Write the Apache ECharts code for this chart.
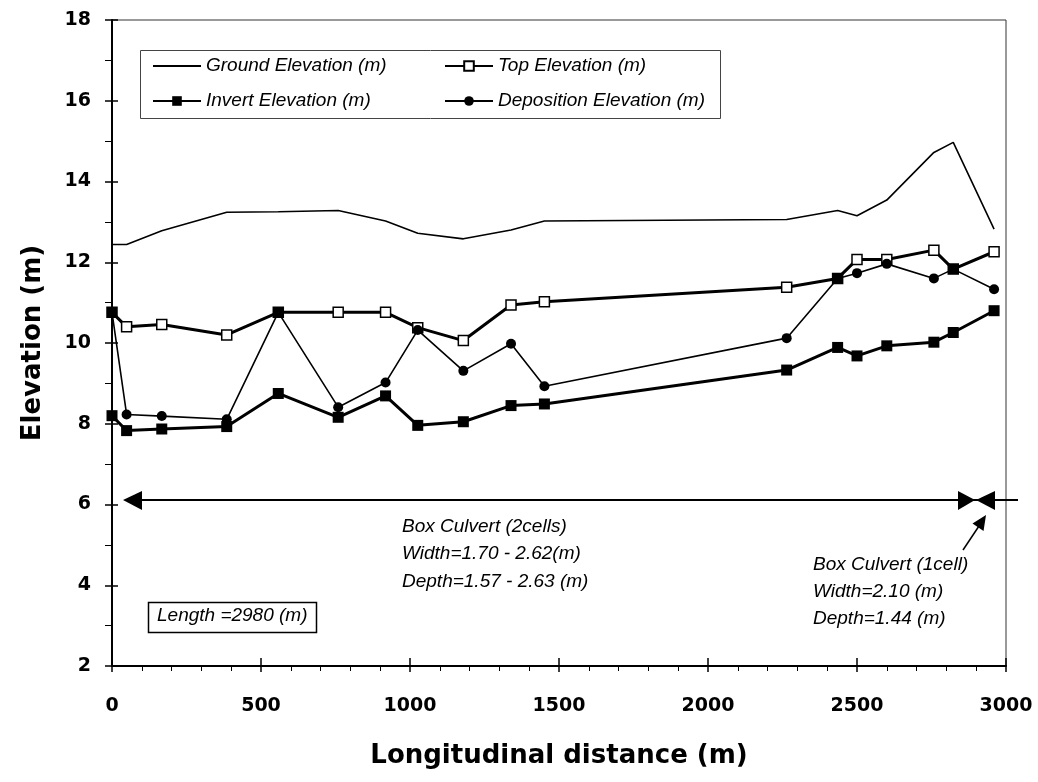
<!DOCTYPE html>
<html>
<head>
<meta charset="utf-8">
<script src="https://cdn.jsdelivr.net/npm/echarts@6/dist/echarts.min.js"></script>
<style>
html,body{margin:0;padding:0;background:#fff;}
#chart{width:1038px;height:782px;}
</style>
</head>
<body>
<div id="chart"></div>
<script>
const distance = [0, 49, 167, 385, 558, 759, 918, 1026, 1179, 1339, 1451, 2264, 2435, 2500, 2600, 2758, 2823, 2960];
const groundElev = [12.44, 12.44, 12.78, 13.24, 13.25, 13.28, 13.02, 12.72, 12.58, 12.80, 13.02, 13.06, 13.28, 13.15, 13.54, 14.72, 14.97, 12.82];
const topElev = [10.76, 10.40, 10.46, 10.20, 10.76, 10.76, 10.76, 10.38, 10.06, 10.94, 11.02, 11.38, 11.60, 12.07, 12.07, 12.30, 11.83, 12.26];
const invertElev = [8.20, 7.83, 7.87, 7.93, 8.75, 8.16, 8.69, 7.96, 8.05, 8.45, 8.49, 9.33, 9.89, 9.68, 9.93, 10.02, 10.26, 10.80];
const depositionElev = [10.76, 8.23, 8.19, 8.11, 10.76, 8.41, 9.02, 10.32, 9.31, 9.98, 8.93, 10.12, 11.60, 11.73, 11.96, 11.60, 11.83, 11.33];
const seriesNames = ['Ground Elevation (m)', 'Top Elevation (m)', 'Invert Elevation (m)', 'Deposition Elevation (m)'];
const xAxisTitle = 'Longitudinal distance (m)';
const yAxisTitle = 'Elevation (m)';
const notes2cells = ['Box Culvert (2cells)', 'Width=1.70 - 2.62(m)', 'Depth=1.57 - 2.63 (m)'];
const notes1cell = ['Box Culvert (1cell)', 'Width=2.10 (m)', 'Depth=1.44 (m)'];
const lengthNote = 'Length =2980 (m)';

const pairs = arr => distance.map((d, i) => [d, arr[i]]);
const topData = distance.map((d, i) => {
  const item = { value: [d, topElev[i]] };
  if (depositionElev[i] === topElev[i]) item.itemStyle = { color: '#000' };
  return item;
});

const G = { left: 112, top: 20, width: 894, height: 646 };
const boldFont = 'DejaVu Sans';
const italicFont = 'Liberation Sans';
const noteFont = 'italic 19px "Liberation Sans"';

const chart = echarts.init(document.getElementById('chart'), null, { renderer: 'canvas' });

const textItems = [];
notes2cells.forEach((t, i) => textItems.push({ type: 'text', left: 402, top: 517 + i * 27.5, style: { text: t, font: noteFont, fill: '#000' }, z: 10 }));
notes1cell.forEach((t, i) => textItems.push({ type: 'text', left: 813, top: 555 + i * 27.3, style: { text: t, font: noteFont, fill: '#000' }, z: 10 }));

const legendText = { fontFamily: italicFont, fontStyle: 'italic', fontSize: 19, color: '#000', lineHeight: 22 };

const option = {
  animation: false,
  backgroundColor: '#fff',
  grid: [
    { left: G.left, top: G.top, width: G.width, height: G.height, show: true, borderColor: '#333', borderWidth: 1, backgroundColor: 'transparent' },
    { left: G.left, top: G.top, width: G.width, height: G.height, show: false }
  ],
  legend: [
    { data: [seriesNames[0], seriesNames[2]], orient: 'vertical', left: 152, top: 55, padding: 0, itemWidth: 48, itemHeight: 12, itemGap: 13,
      textStyle: legendText, selectedMode: false },
    { data: [seriesNames[1], seriesNames[3]], orient: 'vertical', left: 444, top: 55, padding: 0, itemWidth: 48, itemHeight: 12, itemGap: 13,
      textStyle: legendText, selectedMode: false }
  ],
  xAxis: [
    { type: 'value', gridIndex: 0, min: 0, max: 3000, interval: 500, position: 'bottom',
      name: xAxisTitle, nameLocation: 'middle', nameGap: 77,
      nameTextStyle: { fontFamily: boldFont, fontWeight: 'bold', fontSize: 26, color: '#000' },
      axisLine: { show: true, onZero: false, lineStyle: { color: '#000', width: 2 } },
      axisTick: { show: true, inside: false, length: 6, lineStyle: { color: '#000', width: 1.5 } },
      minorTick: { show: true, splitNumber: 5, length: 5, lineStyle: { color: '#000', width: 1 } },
      axisLabel: { margin: 31, fontFamily: boldFont, fontWeight: 'bold', fontSize: 19, color: '#000', formatter: v => String(v) },
      splitLine: { show: false }, minorSplitLine: { show: false } },
    { type: 'value', gridIndex: 1, min: 0, max: 3000, interval: 500, position: 'bottom',
      axisLine: { show: false }, axisLabel: { show: false }, splitLine: { show: false },
      axisTick: { show: true, inside: true, length: 8, lineStyle: { color: '#000', width: 1.5 } } }
  ],
  yAxis: [
    { type: 'value', gridIndex: 0, min: 2, max: 18, interval: 2, position: 'left',
      name: yAxisTitle, nameLocation: 'middle', nameGap: 66, nameRotate: 90,
      nameTextStyle: { fontFamily: boldFont, fontWeight: 'bold', fontSize: 26, color: '#000' },
      axisLine: { show: true, onZero: false, lineStyle: { color: '#000', width: 2 } },
      axisTick: { show: true, inside: false, length: 7, lineStyle: { color: '#000', width: 1.5 } },
      minorTick: { show: true, splitNumber: 2, length: 7, lineStyle: { color: '#000', width: 1 } },
      axisLabel: { margin: 21, fontFamily: boldFont, fontWeight: 'bold', fontSize: 19, color: '#000' },
      splitLine: { show: false }, minorSplitLine: { show: false } },
    { type: 'value', gridIndex: 1, min: 2, max: 18, interval: 2, position: 'left',
      axisLine: { show: false }, axisLabel: { show: false }, splitLine: { show: false },
      axisTick: { show: true, inside: true, length: 6, lineStyle: { color: '#000', width: 1.5 } } }
  ],
  series: [
    { name: seriesNames[0], type: 'line', data: pairs(groundElev), symbol: 'none',
      lineStyle: { color: '#000', width: 1.6 }, itemStyle: { color: 'rgba(0,0,0,0)', borderWidth: 0 }, z: 3, emphasis: { disabled: true } },
    { name: seriesNames[1], type: 'line', data: topData, symbol: 'rect', symbolSize: 10,
      lineStyle: { color: '#000', width: 3 }, itemStyle: { color: '#fff', borderColor: '#000', borderWidth: 1.5 }, z: 4, emphasis: { disabled: true } },
    { name: seriesNames[2], type: 'line', data: pairs(invertElev), symbol: 'rect', symbolSize: 11,
      lineStyle: { color: '#000', width: 3 }, itemStyle: { color: '#000' }, z: 5, emphasis: { disabled: true } },
    { name: seriesNames[3], type: 'line', data: pairs(depositionElev), symbol: 'circle', symbolSize: 10,
      lineStyle: { color: '#000', width: 1.6 }, itemStyle: { color: '#000' }, z: 6, emphasis: { disabled: true } }
  ],
  graphic: [
    { type: 'rect', shape: { x: 140.5, y: 50.5, width: 580, height: 68 }, style: { fill: '#fff', stroke: '#444', lineWidth: 1 }, z: 1, silent: true },
    { type: 'line', shape: { x1: 125, y1: 500, x2: 1018, y2: 500 }, style: { stroke: '#000', lineWidth: 2 }, z: 10 },
    { type: 'polygon', shape: { points: [[123, 500], [142, 491], [142, 510]] }, style: { fill: '#000' }, z: 10 },
    { type: 'polygon', shape: { points: [[975, 500], [958, 491], [958, 510]] }, style: { fill: '#000' }, z: 10 },
    { type: 'polygon', shape: { points: [[976, 500], [995, 491], [995, 510]] }, style: { fill: '#000' }, z: 10 },
    { type: 'line', shape: { x1: 963, y1: 550, x2: 979, y2: 526 }, style: { stroke: '#000', lineWidth: 1.5 }, z: 10 },
    { type: 'polygon', shape: { points: [[986, 515], [983.5, 531], [972.5, 523.5]] }, style: { fill: '#000' }, z: 10 },
    { type: 'rect', shape: { x: 148.5, y: 602.5, width: 168, height: 30 }, style: { fill: '#fff', stroke: '#000', lineWidth: 1.5 }, z: 10 },
    { type: 'text', left: 157, top: 606, style: { text: lengthNote, font: noteFont, fill: '#000' }, z: 11 }
  ].concat(textItems)
};
chart.setOption(option);
</script>
</body>
</html>
